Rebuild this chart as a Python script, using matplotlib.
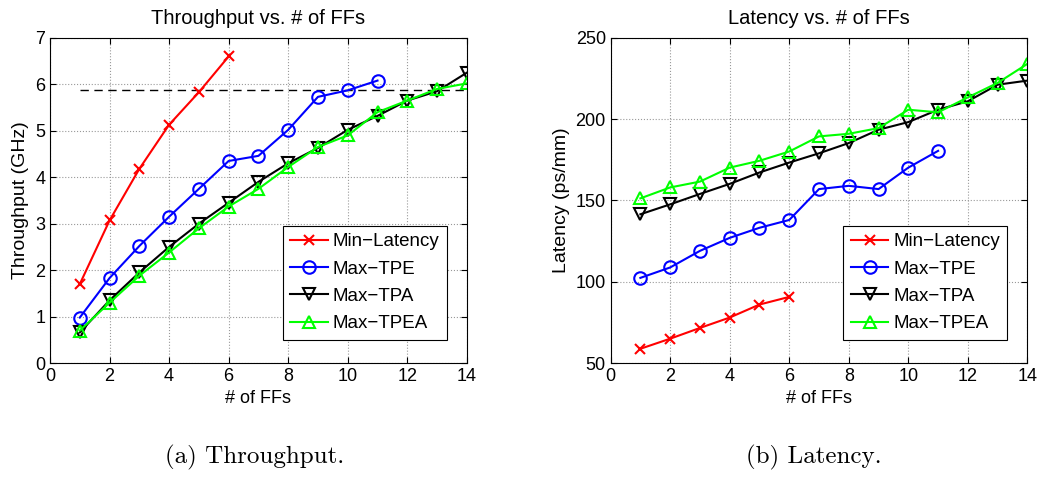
import matplotlib.pyplot as plt
import numpy as np

plt.rcParams['font.family'] = ['Liberation Sans', 'DejaVu Sans']

# x values (# of FFs)
ffs_min = [1, 2, 3, 4, 5, 6]
ffs_tpe = list(range(1, 12))
ffs_all = list(range(1, 15))

# throughput (GHz)
thr_min = [1.70, 3.07, 4.18, 5.13, 5.83, 6.60]
thr_tpe = [0.98, 1.83, 2.52, 3.15, 3.75, 4.35, 4.46, 5.02, 5.73, 5.87, 6.08]
thr_tpa = [0.66, 1.35, 1.95, 2.50, 3.00, 3.45, 3.90, 4.30, 4.63, 5.02, 5.32, 5.65, 5.85, 6.25]
thr_tpea = [0.70, 1.30, 1.88, 2.38, 2.90, 3.37, 3.75, 4.22, 4.65, 4.90, 5.40, 5.65, 5.90, 6.02]
thr_ref = 5.88

# latency (ps/mm)
lat_min = [58.8, 65.0, 71.6, 78.0, 86.0, 90.7]
lat_tpe = [102.4, 108.8, 119.0, 127.0, 133.2, 138.0, 157.0, 159.0, 157.0, 170.2, 180.5]
lat_tpa = [141.5, 147.6, 154.0, 160.2, 167.2, 173.3, 179.0, 185.3, 193.5, 198.2, 205.8, 211.0, 221.2, 223.7]
lat_tpea = [151.3, 158.0, 161.6, 170.2, 174.4, 180.1, 189.4, 191.0, 194.5, 205.8, 204.2, 213.4, 222.3, 234.0]

names = ['Min\u2212Latency', 'Max\u2212TPE', 'Max\u2212TPA', 'Max\u2212TPEA']
colors = ['#ff0000', '#0000ff', '#000000', '#00ff00']
markers = ['x', 'o', 'v', '^']
msizes = [7, 9, 9, 9]

fig = plt.figure(figsize=(10.42, 4.79), dpi=100)
ax1 = fig.add_axes([0.048, 0.242, 0.400, 0.679])
ax2 = fig.add_axes([0.586, 0.242, 0.400, 0.679])


def draw(ax, xs, ys):
    for x, y, n, c, m, s in zip(xs, ys, names, colors, markers, msizes):
        ax.plot(x, y, color=c, marker=m, markersize=s, markerfacecolor='none',
                markeredgecolor=c, markeredgewidth=1.5, linewidth=1.5, label=n)
    ax.grid(True, linestyle=':', color='#999999', linewidth=0.8)
    ax.tick_params(direction='in', top=True, right=True, labelsize=13, length=4)
    ax.set_xlim(0, 14)
    ax.set_xticks(range(0, 15, 2))
    ax.set_xlabel('# of FFs', fontsize=13, labelpad=4)
    leg = ax.legend(loc='lower right', bbox_to_anchor=(0.952, 0.071), fontsize=13.5,
                    fancybox=False, edgecolor='black', framealpha=1,
                    handlelength=2.0, labelspacing=0.55, borderpad=0.4,
                    handletextpad=0.25, borderaxespad=0)
    leg.get_frame().set_linewidth(0.8)


x_sets = [ffs_min, ffs_tpe, ffs_all, ffs_all]
draw(ax1, x_sets, [thr_min, thr_tpe, thr_tpa, thr_tpea])
ax1.plot([1, 14], [thr_ref, thr_ref], linestyle=(0, (6, 4)), color='black', linewidth=1, zorder=1)
ax1.set_ylim(0, 7)
ax1.set_ylabel('Throughput (GHz)', fontsize=14, labelpad=4)
ax1.set_title('Throughput vs. # of FFs', fontsize=14.5, pad=10)

draw(ax2, x_sets, [lat_min, lat_tpe, lat_tpa, lat_tpea])
ax2.set_ylim(50, 250)
ax2.set_yticks([50, 100, 150, 200, 250])
ax2.set_ylabel('Latency (ps/mm)', fontsize=14, labelpad=4)
ax2.set_title('Latency vs. # of FFs', fontsize=14.5, pad=10)

fig.text(0.244, 0.044, '(a) Throughput.', fontsize=18, family='cmr10', ha='center', va='center')
fig.text(0.781, 0.044, '(b) Latency.', fontsize=18, family='cmr10', ha='center', va='center')

fig.savefig('out.png', dpi=100)
